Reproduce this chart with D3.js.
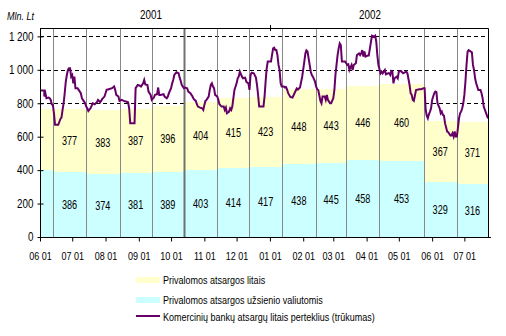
<!DOCTYPE html>
<html><head><meta charset="utf-8">
<script src="https://cdn.jsdelivr.net/npm/d3@7"></script>
<style>
html,body{margin:0;padding:0;background:#fff;}
svg text{font-family:'Liberation Sans',Arial,sans-serif;fill:#000;}
</style></head>
<body><svg id="c" width="506" height="336"></svg>
<script>
// ---- data ----
const seriesStart = "2001-06-01";
const seriesEnd = "2002-07-23";
// reserve maintenance periods (start dates); last period ends at seriesEnd
const periodStarts = ["2001-06-01","2001-06-13","2001-07-14","2001-08-14","2001-09-13","2001-10-13","2001-11-13","2001-12-13","2002-01-12","2002-02-13","2002-03-13","2002-04-13","2002-05-24","2002-06-24"];
const foreignReserves = [400,386,374,381,389,403,414,417,438,445,458,453,329,316];
const litasReserves   = [368,377,383,387,396,404,415,423,448,443,446,460,367,371];
const labelled        = [false,true,true,true,true,true,true,true,true,true,true,true,true,true];
// commercial banks' litas reserves (daily readings): day offset from seriesStart, value
const dayOffsets = [0,4,4,5,6,8,9,10,11,12,13,14,17,19,20,21,22,23,24,25,26,27,28,29,30,31,32,33,35,36,38,39,40,42,43,44,45,47,48,49,51,53,54,55,56,58,60,61,62,64,67,69,70,71,73,74,76,78,80,82,83,84,88,89,91,93,94,96,97,98,100,101,103,104,106,107,109,110,111,112,115,116,118,119,120,122,123,124,125,127,129,130,131,132,134,135,137,138,140,141,142,143,145,146,147,149,151,152,153,154,155,157,158,159,160,161,162,163,165,166,167,169,171,172,173,174,176,177,178,179,180,181,183,184,185,186,188,189,191,192,194,195,196,197,199,201,202,203,204,206,208,209,210,211,212,215,216,217,218,219,220,221,222,223,224,225,227,228,229,230,231,233,235,236,239,240,242,244,246,247,248,249,251,252,253,254,256,257,258,259,261,262,263,265,266,267,268,270,271,273,274,275,276,277,278,279,280,281,284,285,286,287,288,290,291,292,294,295,297,298,299,300,301,302,303,305,306,309,311,312,313,314,315,317,318,319,321,322,324,325,326,327,328,329,330,332,333,334,336,338,341,342,344,345,346,347,348,350,353,355,357,358,359,360,361,362,363,364,365,366,367,368,369,370,372,373,374,375,376,377,379,380,382,383,384,385,386,387,388,389,390,391,392,393,394,395,396,397,398,399,401,402,403,404,405,406,408,410,411,412,413,417];
const reserves = [876,876,840,860,830,834,830,820,794,790,740,671,671,706,714,760,800,860,929,969,999,1009,1009,959,969,919,959,890,890,880,860,830,820,800,780,770,754,770,784,800,794,806,820,814,806,826,840,860,880,884,890,900,880,850,840,814,820,814,810,806,770,681,681,890,909,905,900,919,939,913,909,870,850,820,834,850,854,894,850,850,854,840,830,840,860,890,919,939,969,985,979,953,933,909,890,894,890,870,860,850,840,826,814,794,780,774,770,760,790,814,820,840,880,909,919,900,890,850,840,820,794,780,780,760,774,740,750,770,760,780,830,880,919,949,959,989,959,949,953,929,919,880,969,983,979,953,909,850,780,780,780,840,929,1009,1049,1049,1089,1128,1132,1118,1118,1089,1029,1000,919,900,900,894,897,882,860,838,834,848,888,882,894,957,1047,1097,1116,1110,1030,990,969,959,929,900,884,879,814,800,840,840,820,850,820,800,800,830,879,969,1029,1088,1128,1158,1148,1049,1049,1039,1029,1033,999,1029,999,1029,1039,1088,1098,1088,1098,1118,1079,1109,1079,1085,1085,1204,1198,1204,1168,1088,1029,979,989,979,999,973,979,979,969,993,989,919,949,959,949,989,993,979,989,979,909,860,850,820,814,879,884,884,890,890,760,726,710,734,750,770,820,840,860,870,866,800,770,740,750,730,726,681,631,627,607,607,621,601,631,601,601,651,710,740,750,770,800,850,929,1029,1109,1118,1109,1105,1029,999,949,919,879,879,860,830,780,710,710];
const yTicks = [0,200,400,600,800,1000,1200];
const gridValues = [800,1000,1200];
const years = ["2001","2002"];
const yearBoundary = "2002-01-01";
const unitLabel = "Mln. Lt";
const legendLabels = ["Privalomos atsargos litais","Privalomos atsargos užsienio valiutomis","Komercinių bankų atsargų litais perteklius (trūkumas)"];

// ---- chart ----
const parse = d3.timeParse("%Y-%m-%d");
const t0 = parse(seriesStart), t1 = parse(seriesEnd);
const L = 40, R = 488, T = 28, B = 237;
const x = d3.scaleTime().domain([t0, t1]).range([L, R]);
const y = d3.scaleLinear().domain([0, 1250]).range([B, T]);
const svg = d3.select("#c");
const colYellow = "#ffffcc", colCyan = "#ccffff", colLine = "#660066";

// narrow-font look: horizontally condense text around its own x position
function squeeze(sel, k) {
  sel.each(function () {
    const t = d3.select(this);
    const xx = +t.attr("x") || 0;
    t.attr("x", xx / k).attr("transform", `scale(${k},1)`);
  });
}

const periods = periodStarts.map((s, i) => ({
  a: parse(s), b: i < periodStarts.length - 1 ? parse(periodStarts[i + 1]) : t1,
  f: foreignReserves[i], l: litasReserves[i], lab: labelled[i]
}));

// dashed gridlines (behind fills)
svg.append("g").selectAll("line").data(gridValues).join("line")
  .attr("x1", L).attr("x2", R).attr("y1", d => Math.round(y(d)) + 0.5).attr("y2", d => Math.round(y(d)) + 0.5)
  .attr("stroke", "#000").attr("stroke-width", 1).attr("stroke-dasharray", "4,3");

// stacked fills
const gF = svg.append("g");
gF.selectAll("rect.l").data(periods).join("rect").attr("class", "l")
  .attr("x", d => x(d.a)).attr("width", d => x(d.b) - x(d.a))
  .attr("y", d => y(d.f + d.l)).attr("height", d => y(d.f) - y(d.f + d.l))
  .attr("fill", colYellow).attr("shape-rendering", "crispEdges");
gF.selectAll("rect.f").data(periods).join("rect").attr("class", "f")
  .attr("x", d => x(d.a)).attr("width", d => x(d.b) - x(d.a))
  .attr("y", d => y(d.f)).attr("height", d => y(0) - y(d.f))
  .attr("fill", colCyan).attr("shape-rendering", "crispEdges");

// period separators
svg.append("g").selectAll("line").data(periods.slice(1)).join("line")
  .attr("x1", d => Math.round(x(d.a)) + 0.5).attr("x2", d => Math.round(x(d.a)) + 0.5)
  .attr("y1", T).attr("y2", B)
  .attr("stroke", (d, i) => i === 4 ? "#707070" : "#888")
  .attr("stroke-width", (d, i) => i === 4 ? 2 : 1);

// value labels
const labs = periods.filter(d => d.lab);
const gV = svg.append("g").attr("font-size", "12px").attr("text-anchor", "middle");
gV.selectAll("text.f").data(labs).join("text").attr("class", "f")
  .attr("x", d => (x(d.a) + x(d.b)) / 2).attr("y", d => y(d.f / 2)).attr("dy", "0.35em")
  .text(d => d.f);
gV.selectAll("text.l").data(labs).join("text").attr("class", "l")
  .attr("x", d => (x(d.a) + x(d.b)) / 2).attr("y", d => y(d.f + d.l / 2)).attr("dy", "0.35em")
  .text(d => d.l);
squeeze(gV.selectAll("text"), 0.76);

// line
const pts = dayOffsets.map((d, i) => ({ t: d3.timeDay.offset(t0, d), v: reserves[i] }));
svg.append("path").datum(pts)
  .attr("d", d3.line().x(d => x(d.t)).y(d => y(d.v)))
  .attr("fill", "none").attr("stroke", colLine).attr("stroke-width", 2).attr("stroke-linejoin", "miter");

// frame
svg.append("path").attr("d", `M${L},${T + 0.5}H${R + 0.5}V${B}`)
  .attr("fill", "none").attr("stroke", "#000").attr("stroke-width", 1);
const yb = x(parse(yearBoundary));
svg.append("line").attr("x1", Math.round(yb) + 0.5).attr("x2", Math.round(yb) + 0.5)
  .attr("y1", T - 3).attr("y2", T + 3).attr("stroke", "#000");

// axes
const yAxis = d3.axisLeft(y).tickValues(yTicks).tickSize(3)
  .tickFormat(d => d3.format(",")(d).replace(",", " "));
const gy = svg.append("g").attr("transform", `translate(${L + 0.5},0)`).call(yAxis);
gy.attr("font-family", null);
gy.select(".domain").attr("d", `M0,${T}V${B}`).attr("stroke", "#000");
gy.selectAll(".tick line").attr("x1", -3).attr("x2", 3).attr("stroke", "#000");
gy.selectAll(".tick text").attr("x", -7).attr("font-size", "12px");
squeeze(gy.selectAll(".tick text"), 0.82);

const xAxis = d3.axisBottom(x).ticks(d3.timeMonth.every(1)).tickSize(4)
  .tickFormat(d3.timeFormat("%m %d"));
const gx = svg.append("g").attr("transform", `translate(0,${B + 0.5})`).call(xAxis);
gx.attr("font-family", null);
gx.select(".domain").attr("d", `M${L},0H${R + 3}`).attr("stroke", "#000");
gx.selectAll(".tick line").attr("stroke", "#000");
gx.selectAll(".tick text").attr("y", 15).attr("font-size", "11px");
squeeze(gx.selectAll(".tick text"), 0.82);

// year labels & unit
const yb2 = parse(yearBoundary);
const gYr = svg.append("g").attr("font-size", "12px").attr("text-anchor", "middle");
gYr.append("text").attr("x", (x(t0) + x(yb2)) / 2 - 4).attr("y", 19).text(years[0]);
gYr.append("text").attr("x", (x(yb2) + x(t1)) / 2 - 9).attr("y", 19).text(years[1]);
squeeze(gYr.selectAll("text"), 0.82);
const u = svg.append("text").attr("x", 7).attr("y", 20).attr("font-size", "11px").attr("font-style", "italic").text(unitLabel);
squeeze(u, 0.82);

// legend
const lg = svg.append("g");
const ly = [280, 300, 317];
lg.append("rect").attr("x", 136).attr("y", ly[0] - 3).attr("width", 24).attr("height", 6).attr("fill", colYellow);
lg.append("rect").attr("x", 136).attr("y", ly[1] - 3).attr("width", 24).attr("height", 6).attr("fill", colCyan);
lg.append("line").attr("x1", 136).attr("x2", 160).attr("y1", ly[2] - 1).attr("y2", ly[2] - 1).attr("stroke", colLine).attr("stroke-width", 2);
lg.selectAll("text").data(legendLabels).join("text")
  .attr("x", 163).attr("y", (d, i) => ly[i]).attr("dy", "0.35em").attr("font-size", "11px").text(d => d);
squeeze(lg.selectAll("text"), 0.82);
</script></body></html>
